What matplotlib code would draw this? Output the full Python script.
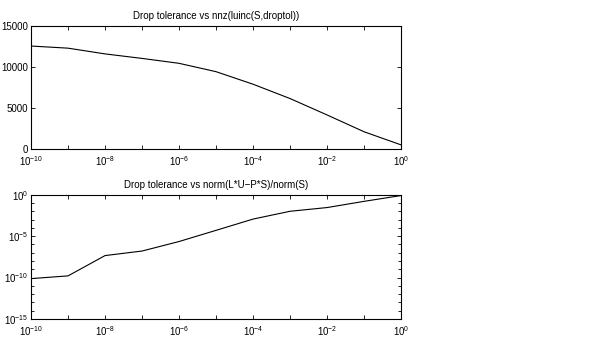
import numpy as np
import matplotlib
matplotlib.use("Agg")
import matplotlib.pyplot as plt
from matplotlib.ticker import FixedLocator, FixedFormatter, NullFormatter

plt.rcParams['font.family'] = ['Liberation Sans', 'DejaVu Sans']
plt.rcParams['mathtext.fontset'] = 'custom'
plt.rcParams['mathtext.rm'] = 'Liberation Sans'
plt.rcParams['mathtext.it'] = 'Liberation Sans'
plt.rcParams['mathtext.default'] = 'regular'

# drop tolerances (one per decade)
droptol = [1e-10, 1e-9, 1e-8, 1e-7, 1e-6, 1e-5, 1e-4, 1e-3, 1e-2, 1e-1, 1e0]
# nnz(luinc(S,droptol))
nnz_vals = [12560, 12300, 11600, 11050, 10450, 9430, 7900, 6150, 4150, 2100, 500]
# log10 of norm(L*U-P*S)/norm(S)
log_rel_err = [-10.13, -9.8, -7.35, -6.8, -5.65, -4.3, -2.94, -2.0, -1.55, -0.8, -0.1]
rel_err = [10.0 ** v for v in log_rel_err]

x_ticks = [10.0 ** k for k in range(-10, 1)]
x_labels = [r'$10^{%d}$' % k if k % 2 == 0 else '' for k in range(-10, 1)]

fig = plt.figure(figsize=(6.0, 3.54), dpi=100)
ax1 = fig.add_axes([0.0517, 0.579, 0.617, 0.3475])
ax2 = fig.add_axes([0.0517, 0.099, 0.617, 0.351])

fs = 7

def style_axis(ax):
    ax.set_xscale('log')
    ax.set_xlim(1e-10, 1e0)
    ax.xaxis.set_major_locator(FixedLocator(x_ticks))
    ax.xaxis.set_major_formatter(FixedFormatter(x_labels))
    ax.xaxis.set_minor_locator(FixedLocator([]))
    ax.tick_params(which='both', direction='in', top=True, right=True,
                   length=3, width=0.6, labelsize=fs, pad=2)
    ax.tick_params(axis='x', pad=4)
    ax.tick_params(which='minor', length=2)
    for s in ax.spines.values():
        s.set_linewidth(0.8)

ax1.plot(droptol, nnz_vals, color='black', linewidth=0.8)
style_axis(ax1)
ax1.set_ylim(0, 15000)
ax1.set_yticks([0, 5000, 10000, 15000])
ax1.set_title('Drop tolerance vs nnz(luinc(S,droptol))', fontsize=fs, pad=5)

ax2.plot(droptol, rel_err, color='black', linewidth=0.8)
style_axis(ax2)
ax2.set_yscale('log')
ax2.set_ylim(1e-15, 1e0)
ax2.yaxis.set_major_locator(FixedLocator([1e-15, 1e-10, 1e-5, 1e0]))
ax2.yaxis.set_major_formatter(FixedFormatter([r'$10^{-15}$', r'$10^{-10}$', r'$10^{-5}$', r'$10^{0}$']))
ax2.yaxis.set_minor_locator(FixedLocator([10.0 ** k for k in range(-15, 1) if k % 5 != 0]))
ax2.yaxis.set_minor_formatter(NullFormatter())
ax2.tick_params(which='both', direction='in', top=True, right=True)
ax2.tick_params(which='minor', length=2, width=0.6)
ax2.set_title('Drop tolerance vs norm(L*U\u2212P*S)/norm(S)', fontsize=fs, pad=5)

fig.savefig('out.png', dpi=100)
